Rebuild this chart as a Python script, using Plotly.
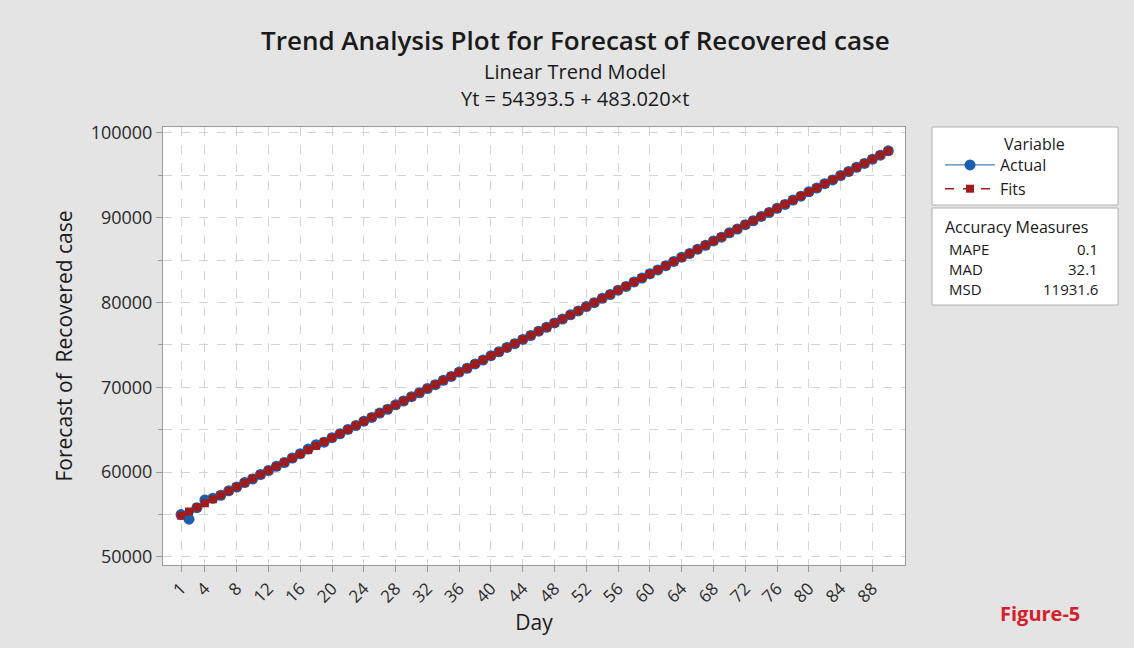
import plotly.graph_objects as go

# Trend analysis data: recovered cases by day
days = list(range(1, 91))
actual = [
    55002, 54450, 55803, 56716, 56919, 57262, 57795, 58243, 58766, 59204,
    59722, 60180, 60693, 61131, 61669, 62182, 62725, 63238, 63531, 64064,
    64517, 65035, 65493, 66006, 66454, 66962, 67415, 67933, 68391, 68904,
    69352, 69860, 70313, 70831, 71289, 71802, 72250, 72758, 73211, 73729,
    74187, 74700, 75148, 75656, 76109, 76627, 77085, 77598, 78046, 78555,
    79008, 79526, 79984, 80497, 80945, 81453, 81906, 82424, 82882, 83395,
    83843, 84351, 84854, 85347, 85780, 86288, 86746, 87259, 87707, 88215,
    88668, 89186, 89644, 90157, 90605, 91113, 91566, 92084, 92542, 93055,
    93503, 94011, 94464, 94982, 95440, 95953, 96401, 96909, 97372, 97885,
]
# Fitted linear trend  Yt = 54393.5 + 483.020 * t
intercept = 54393.5
slope = 483.020
fits = [intercept + slope * t for t in days]

x_ticks = [1] + list(range(4, 89, 4))
y_ticks = [50000, 60000, 70000, 80000, 90000, 100000]

measure_names = ["MAPE", "MAD", "MSD"]
measure_values = ["0.1", "32.1", "11931.6"]

W, H = 1134, 648
L, R, T, B = 163, 229, 127, 83
PW, PH = W - L - R, H - T - B


def px(x):
    return (x - L) / PW


def py(y):
    return (H - B - y) / PH


FONT = "Open Sans, Noto Sans, sans-serif"
BLUE = "#1a5fae"
RED = "#a01c1c"
GRID = "#d4d4d4"
AXIS = "#9a9a9a"
INK = "#1a1a1a"

fig = go.Figure()
fig.add_trace(go.Scatter(
    x=days, y=actual, name="Actual", mode="lines+markers",
    line=dict(color=BLUE, width=1),
    marker=dict(symbol="circle", size=11, color=BLUE),
))
fig.add_trace(go.Scatter(
    x=days, y=fits, name="Fits", mode="lines+markers",
    line=dict(color=RED, width=1.5, dash="dash"),
    marker=dict(symbol="square", size=8, color=RED),
))

annotations = [
    dict(x=px(575), y=py(40), text="Trend Analysis Plot for Forecast of Recovered case",
         font=dict(size=26, color=INK, family=FONT, weight=600)),
    dict(x=px(575), y=py(71), text="Linear Trend Model",
         font=dict(size=20, color=INK, family=FONT)),
    dict(x=px(575), y=py(98), text=f"Yt = {intercept} + {slope:.3f}×t",
         font=dict(size=20, color=INK, family=FONT)),
    dict(x=px(1002), y=py(144), text="Variable", xanchor="left",
         font=dict(size=16, color=INK, family=FONT)),
    dict(x=px(943), y=py(227), text="Accuracy Measures", xanchor="left",
         font=dict(size=16, color=INK, family=FONT)),
    dict(x=px(1040), y=py(613), text="<b>Figure-5</b>",
         font=dict(size=20, color="#d4202a", family=FONT)),
]
for i, (n, v) in enumerate(zip(measure_names, measure_values)):
    yy = py(249 + i * 20)
    annotations.append(dict(x=px(947), y=yy, text=n, xanchor="left",
                            font=dict(size=15, color=INK, family=FONT)))
    annotations.append(dict(x=px(1100), y=yy, text=v, xanchor="right",
                            font=dict(size=15, color=INK, family=FONT)))
for a in annotations:
    a.update(xref="paper", yref="paper", showarrow=False, yanchor="middle")
    a.setdefault("xanchor", "center")

shapes = [
    dict(type="rect", xref="paper", yref="paper", x0=px(932), x1=px(1118),
         y0=py(205), y1=py(127), fillcolor="white", line=dict(color="#b0b0b0", width=1),
         layer="below"),
    dict(type="rect", xref="paper", yref="paper", x0=px(932), x1=px(1118),
         y0=py(305), y1=py(208), fillcolor="white", line=dict(color="#b0b0b0", width=1),
         layer="below"),
]

fig.update_layout(
    width=W, height=H,
    margin=dict(l=L, r=R, t=T, b=B),
    paper_bgcolor="#e4e4e4",
    plot_bgcolor="white",
    font=dict(family=FONT, color=INK),
    showlegend=True,
    legend=dict(x=px(940), y=py(148), xanchor="left", yanchor="top",
                bgcolor="rgba(0,0,0,0)", borderwidth=0,
                font=dict(size=16, family=FONT, color=INK),
                tracegroupgap=0, itemwidth=50),
    annotations=annotations,
    shapes=shapes,
)
fig.update_xaxes(
    range=[-1.27, 92.1], tickvals=x_ticks, ticktext=[str(v) for v in x_ticks],
    tickangle=-45, tickfont=dict(size=17, color="#2a2a2a"),
    ticks="outside", ticklen=6, tickcolor=AXIS,
    showgrid=True, gridcolor=GRID, griddash="dash", gridwidth=1,
    showline=True, linecolor=AXIS, mirror=True, zeroline=False,
    title=dict(text="Day", font=dict(size=21, color=INK), standoff=9),
)
fig.update_yaxes(
    range=[49050, 100700], tickvals=y_ticks, ticktext=[str(v) for v in y_ticks],
    tickfont=dict(size=18, color="#2a2a2a"),
    ticks="outside", ticklen=6, tickcolor=AXIS,
    showgrid=True, gridcolor=GRID, griddash="dash", gridwidth=1,
    minor=dict(dtick=5000, tick0=0, showgrid=True, gridcolor=GRID, griddash="dash",
               ticks="outside", ticklen=4, tickcolor=AXIS),
    showline=True, linecolor=AXIS, mirror=True, zeroline=False,
    title=dict(text="Forecast of  Recovered case", font=dict(size=21, color=INK),
               standoff=12),
)

fig.write_html("out.html")
